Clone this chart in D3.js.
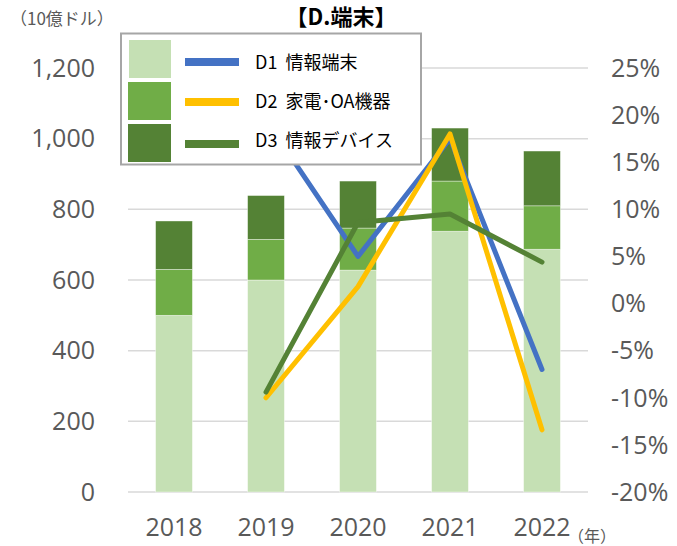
<!DOCTYPE html>
<html>
<head>
<meta charset="utf-8">
<script src="https://cdn.jsdelivr.net/npm/d3@7"></script>
<style>
  body { margin: 0; background: #fff; }
  text { font-family: "Open Sans", "Noto Sans CJK JP", sans-serif; }
</style>
</head>
<body>
<div id="chart"></div>
<script>
const years = ["2018", "2019", "2020", "2021", "2022"];
const d1Values = [500, 600, 628, 738, 687];
const d2Values = [130, 115, 119, 142, 123];
const d3Values = [137, 124, 133, 150, 155];
const d1Growth = [null, 19.5, 5.0, 17.5, -7.0];
const d2Growth = [null, -10.0, 1.8, 18.0, -13.4];
const d3Growth = [null, -9.4, 8.6, 9.5, 4.4];
const leftTicks = [0, 200, 400, 600, 800, 1000, 1200];
const rightTicks = [-20, -15, -10, -5, 0, 5, 10, 15, 20, 25];
const seriesNames = ["D1 情報端末", "D2 家電･OA機器", "D3 情報デバイス"];

const barColors = ["#C5E0B4", "#70AD47", "#548235"];
const lineColors = ["#4472C4", "#FFC000", "#548235"];

const W = 677, H = 546;
const plot = {left: 128, right: 588, top: 68, bottom: 492};

const svg = d3.select("#chart")
    .append("svg")
    .attr("width", W)
    .attr("height", H);

const x = d3.scaleBand()
    .domain(years)
    .range([plot.left, plot.right])
    .paddingInner(0.6)
    .paddingOuter(0.3);

const y = d3.scaleLinear().domain([0, 1200]).range([plot.bottom, plot.top]);
const y2 = d3.scaleLinear().domain([-20, 25]).range([plot.bottom, plot.top]);

// gridlines
svg.append("g")
    .selectAll("line")
    .data(leftTicks)
    .join("line")
    .attr("x1", plot.left)
    .attr("x2", plot.right)
    .attr("y1", d => y(d))
    .attr("y2", d => y(d))
    .attr("stroke", "#d9d9d9")
    .attr("stroke-width", 1.5);

// left axis labels
svg.append("g")
    .selectAll("text")
    .data(leftTicks)
    .join("text")
    .attr("x", 95)
    .attr("y", d => y(d))
    .attr("dy", "0.35em")
    .attr("text-anchor", "end")
    .attr("fill", "#595959")
    .style("font-size", "25px")
    .text(d => d3.format(",")(d));

// right axis labels
svg.append("g")
    .selectAll("text")
    .data(rightTicks)
    .join("text")
    .attr("x", 611)
    .attr("y", d => y2(d))
    .attr("dy", "0.35em")
    .attr("text-anchor", "start")
    .attr("fill", "#595959")
    .style("font-size", "25px")
    .text(d => d + "%");

// x labels
svg.append("g")
    .selectAll("text")
    .data(years)
    .join("text")
    .attr("x", d => x(d) + x.bandwidth() / 2)
    .attr("y", 527)
    .attr("dy", "0.35em")
    .attr("text-anchor", "middle")
    .attr("fill", "#595959")
    .style("font-size", "25px")
    .text(d => d);

// stacked bars
const table = years.map((yr, i) => ({year: yr, d1: d1Values[i], d2: d2Values[i], d3: d3Values[i]}));
const keys = ["d1", "d2", "d3"];
const stacked = d3.stack().keys(keys)(table);

svg.append("g")
    .selectAll("g")
    .data(stacked)
    .join("g")
    .attr("fill", (d, i) => barColors[i])
    .selectAll("rect")
    .data(d => d)
    .join("rect")
    .attr("x", d => x(d.data.year))
    .attr("width", x.bandwidth())
    .attr("y", d => y(d[1]))
    .attr("height", d => y(d[0]) - y(d[1]))
    .attr("stroke", "#fff")
    .attr("stroke-opacity", 0.5)
    .attr("stroke-width", 0.75);

// growth lines
const growth = [d1Growth, d2Growth, d3Growth];
const line = d3.line()
    .defined(d => d.v !== null)
    .x(d => x(d.year) + x.bandwidth() / 2)
    .y(d => y2(d.v));

growth.forEach((g, i) => {
  svg.append("path")
      .datum(years.map((yr, j) => ({year: yr, v: g[j]})))
      .attr("fill", "none")
      .attr("stroke", lineColors[i])
      .attr("stroke-width", 5)
      .attr("stroke-linecap", "round")
      .attr("stroke-linejoin", "round")
      .attr("d", line);
});

// legend
const legend = svg.append("g");
legend.append("rect")
    .attr("x", 121)
    .attr("y", 33.5)
    .attr("width", 300)
    .attr("height", 131)
    .attr("fill", "#fff")
    .attr("stroke", "#a6a6a6")
    .attr("stroke-width", 2);

const rowY = [62, 102, 144];
const textY = [63, 102, 141];
const swatch = [[129, 40, 42, 38], [128, 82, 43, 38], [128, 124, 43, 38]];
seriesNames.forEach((name, i) => {
  legend.append("rect")
      .attr("x", swatch[i][0])
      .attr("y", swatch[i][1])
      .attr("width", swatch[i][2])
      .attr("height", swatch[i][3])
      .attr("fill", barColors[i]);
  legend.append("line")
      .attr("x1", 185)
      .attr("x2", 239)
      .attr("y1", rowY[i])
      .attr("y2", rowY[i])
      .attr("stroke", lineColors[i])
      .attr("stroke-width", 8);
  legend.append("text")
      .attr("x", 255)
      .attr("y", textY[i])
      .attr("dy", "0.36em")
      .attr("fill", "#000")
      .style("font-family", "'Noto Sans CJK JP', sans-serif")
      .style("font-size", "18px")
      .attr("xml:space", "preserve")
      .text(name.replace(" ", "  "));
});

// title
svg.append("text")
    .attr("x", 341)
    .attr("y", 17)
    .attr("dy", "0.36em")
    .attr("text-anchor", "middle")
    .style("font-family", "'Noto Sans CJK JP', sans-serif")
    .style("font-weight", "bold")
    .style("font-size", "22px")
    .text("【D.端末】");

// unit labels
svg.append("text")
    .attr("x", 10)
    .attr("y", 19)
    .attr("dy", "0.36em")
    .attr("fill", "#595959")
    .style("font-family", "'Noto Sans CJK JP', sans-serif")
    .style("font-size", "17px")
    .text("（10億ドル）");

svg.append("text")
    .attr("x", 568)
    .attr("y", 536)
    .attr("dy", "0.36em")
    .attr("fill", "#595959")
    .style("font-family", "'Noto Sans CJK JP', sans-serif")
    .style("font-size", "16px")
    .text("（年）");
</script>
</body>
</html>
